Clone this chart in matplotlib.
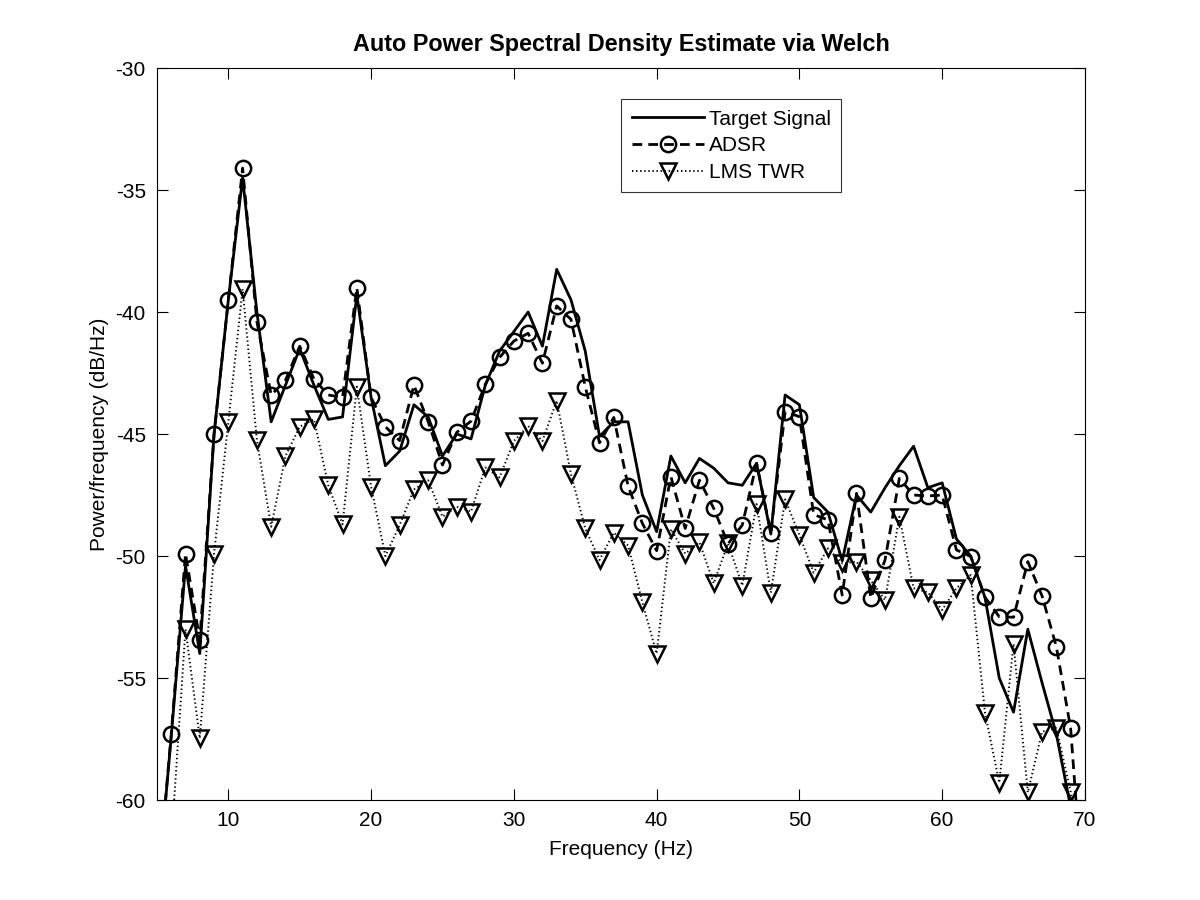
import matplotlib
matplotlib.use("Agg")
import matplotlib.pyplot as plt
import numpy as np

plt.rcParams['font.family'] = ['Liberation Sans', 'DejaVu Sans']
plt.rcParams['axes.unicode_minus'] = False

freq = list(range(5, 71))

target = [-64.0, -57.4, -50.4, -54.0, -45.0, -39.5, -34.5, -40.0, -44.5, -43.0,
          -41.5, -43.0, -44.4, -44.3, -39.3, -43.5, -46.3, -45.7, -43.8, -44.3,
          -45.9, -45.0, -45.2, -43.0, -41.6, -40.8, -40.0, -41.4, -38.25, -39.5,
          -41.6, -45.1, -44.5, -44.5, -47.5, -49.0, -45.9, -47.0, -46.0, -46.4,
          -47.0, -47.1, -46.2, -49.1, -43.4, -43.8, -47.6, -48.2, -50.2, -47.5,
          -48.2, -47.2, -46.3, -45.5, -47.2, -47.0, -49.3, -50.0, -51.7, -55.0,
          -56.4, -53.0, -55.2, -57.3, -60.3, -64.0]

adsr = [-64.0, -57.3, -49.9, -53.45, -45.0, -39.5, -34.1, -40.4, -43.4, -42.8,
        -41.4, -42.75, -43.4, -43.5, -39.0, -43.5, -44.7, -45.27, -43.0, -44.5,
        -46.27, -44.93, -44.47, -42.96, -41.86, -41.19, -40.87, -42.1, -39.75, -40.3,
        -43.06, -45.36, -44.32, -47.13, -48.66, -49.78, -46.75, -48.87, -46.89, -48.05,
        -49.5, -48.73, -46.2, -49.04, -44.08, -44.29, -48.3, -48.52, -51.6, -47.43,
        -51.73, -50.16, -46.82, -47.5, -47.54, -47.5, -49.75, -50.02, -51.69, -52.49,
        -52.51, -50.23, -51.64, -53.72, -57.06, -65.0]

lms = [-65.0, -61.8, -53.0, -57.47, -49.9, -44.5, -39.06, -45.25, -48.8, -45.9,
       -44.7, -44.4, -47.1, -48.7, -43.06, -47.16, -50.0, -48.73, -47.27, -46.9,
       -48.39, -47.98, -48.18, -46.37, -46.78, -45.29, -44.67, -45.29, -43.63, -46.64,
       -48.87, -50.16, -49.04, -49.57, -51.9, -54.0, -48.9, -49.9, -49.44, -51.12,
       -49.48, -51.21, -47.87, -51.5, -47.68, -49.14, -50.68, -49.69, -50.3, -50.23,
       -51.0, -51.8, -48.39, -51.32, -51.49, -52.21, -51.32, -50.78, -56.42, -59.29,
       -53.6, -59.69, -57.2, -57.06, -59.66, -64.0]

xticks = [10, 20, 30, 40, 50, 60, 70]
yticks = [-60, -55, -50, -45, -40, -35, -30]

fig = plt.figure(figsize=(12, 9), dpi=100)
ax = fig.add_axes([0.1308, 0.1111, 0.7733, 0.8133])

fs = 15

ax.plot(freq, target, color='black', linestyle='-', linewidth=2.0,
        label='Target Signal')
ax.plot(freq, adsr, color='black', linestyle=(0, (3.5, 2.2)), linewidth=2.0,
        marker='o', markersize=11, markerfacecolor='none', markeredgewidth=1.8,
        label='ADSR')
ax.plot(freq, lms, color='black', linestyle=(0, (0.7, 1.4)), linewidth=1.4,
        marker='v', markersize=12, markerfacecolor='none', markeredgewidth=1.8,
        label='LMS TWR')

ax.set_xlim(5, 70)
ax.set_ylim(-60, -30)
ax.set_xticks(xticks)
ax.set_yticks(yticks)
ax.tick_params(direction='in', length=8, width=0.8, top=True, right=True,
               labelsize=fs, pad=8)
for s in ax.spines.values():
    s.set_linewidth(0.8)

ax.set_title('Auto Power Spectral Density Estimate via Welch', fontsize=16.8,
             fontweight='bold', pad=12)
ax.set_xlabel('Frequency (Hz)', fontsize=fs, labelpad=7)
ax.set_ylabel('Power/frequency (dB/Hz)', fontsize=fs, labelpad=5)

leg = ax.legend(loc='upper left', bbox_to_anchor=(0.5005, 0.9575), fontsize=fs,
                frameon=True, fancybox=False, edgecolor='black',
                handlelength=3.45, handletextpad=0.25, borderpad=0.5,
                labelspacing=0.37, borderaxespad=0)
leg.get_frame().set_linewidth(0.8)

fig.savefig('out.png', dpi=100)
